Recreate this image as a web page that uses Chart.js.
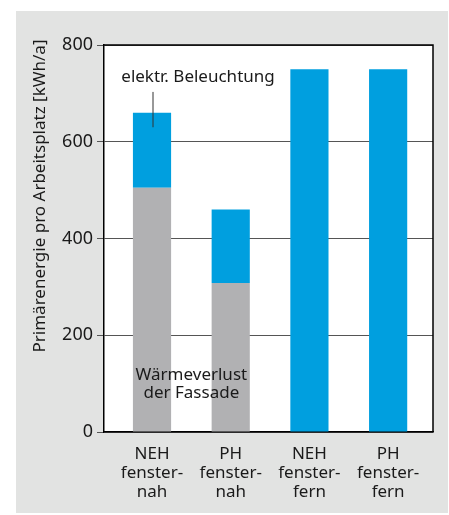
<!DOCTYPE html>
<html>
<head>
<meta charset="utf-8">
<script src="https://cdn.jsdelivr.net/npm/chart.js@4/dist/chart.umd.min.js"></script>
<style>
  html, body { margin: 0; padding: 0; background: #fff; }
  canvas { display: block; }
</style>
</head>
<body>
<canvas id="chart" width="449" height="515"></canvas>
<script>
const categories = [
  ["NEH", "fenster-", "nah"],
  ["PH", "fenster-", "nah"],
  ["NEH", "fenster-", "fern"],
  ["PH", "fenster-", "fern"]
];
const waermeverlust = [505, 308, 0, 0];
const beleuchtung = [155, 152, 750, 750];
const yTicks = [0, 200, 400, 600, 800];

const FONT = "'Noto Sans', 'Open Sans', sans-serif";
const TEXT = "#1a1a1a";

// gray panel, white plot area, frame and annotations
const decor = {
  id: "decor",
  beforeDraw(chart) {
    const { ctx, chartArea: a } = chart;
    ctx.save();
    ctx.fillStyle = "#e2e3e2";
    ctx.fillRect(16, 11, 432, 502);
    ctx.fillStyle = "#fff";
    ctx.fillRect(a.left, a.top, a.right - a.left, a.bottom - a.top);
    ctx.restore();
  },
  afterDatasetsDraw(chart) {
    const { ctx, chartArea: a, scales: { x, y } } = chart;
    ctx.save();
    // frame top/right
    ctx.strokeStyle = "#000";
    ctx.lineWidth = 1.5;
    ctx.beginPath();
    ctx.moveTo(a.left, a.top);
    ctx.lineTo(a.right, a.top);
    ctx.lineTo(a.right, a.bottom);
    ctx.stroke();

    // axis title
    ctx.fillStyle = TEXT;
    ctx.font = "17px " + FONT;
    ctx.textAlign = "center";
    ctx.textBaseline = "middle";
    ctx.save();
    ctx.translate(40, 196);
    ctx.rotate(-Math.PI / 2);
    ctx.fillText("Primärenergie pro Arbeitsplatz [kWh/a]", 0, 0);
    ctx.restore();

    // leader line + label
    const x0 = x.getPixelForValue(0);
    ctx.strokeStyle = "#333";
    ctx.lineWidth = 1;
    ctx.beginPath();
    ctx.moveTo(x0 + 1, y.getPixelForValue(703));
    ctx.lineTo(x0 + 1, y.getPixelForValue(630));
    ctx.stroke();
    ctx.fillText("elektr. Beleuchtung", x0 + 46, y.getPixelForValue(733));

    // inner label
    const xm = (x.getPixelForValue(0) + x.getPixelForValue(1)) / 2;
    ctx.fillText("Wärmeverlust", xm, y.getPixelForValue(117));
    ctx.fillText("der Fassade", xm, y.getPixelForValue(81));
    ctx.restore();
  }
};

const pts = arr => arr.map((v, i) => ({ x: i, y: v }));

new Chart(document.getElementById("chart"), {
  type: "bar",
  data: {
    datasets: [
      {
        label: "Wärmeverlust der Fassade",
        data: pts(waermeverlust),
        backgroundColor: "#b1b1b3",
        categoryPercentage: 1,
        barPercentage: 0.485
      },
      {
        label: "elektr. Beleuchtung",
        data: pts(beleuchtung),
        backgroundColor: "#009fdf",
        categoryPercentage: 1,
        barPercentage: 0.485
      }
    ]
  },
  options: {
    responsive: false,
    animation: false,
    layout: { padding: { left: 0, top: 45, right: 16, bottom: 0 } },
    plugins: {
      legend: { display: false },
      tooltip: { enabled: false }
    },
    scales: {
      x: {
        type: "linear",
        offset: false,
        stacked: true,
        min: -0.61,
        max: 3.57,
        afterBuildTicks(s) { s.ticks = categories.map((c, i) => ({ value: i })); },
        grid: { display: false },
        border: { color: "#000", width: 1.5 },
        ticks: {
          color: TEXT,
          callback: v => categories[v],
          font: { family: FONT, size: 17, lineHeight: 1.1 },
          padding: 5,
          maxRotation: 0,
          autoSkip: false
        },
        afterFit(s) { s.height = 83; }
      },
      y: {
        stacked: true,
        min: 0,
        max: 800,
        afterBuildTicks(s) { s.ticks = yTicks.map(v => ({ value: v })); },
        grid: { color: "#555", lineWidth: 1, tickLength: 7 },
        border: { color: "#000", width: 1.5 },
        ticks: {
          color: TEXT,
          font: { family: FONT, size: 18 },
          padding: 4
        },
        afterFit(s) { s.width = 104; }
      }
    }
  },
  plugins: [decor]
});
</script>
</body>
</html>
